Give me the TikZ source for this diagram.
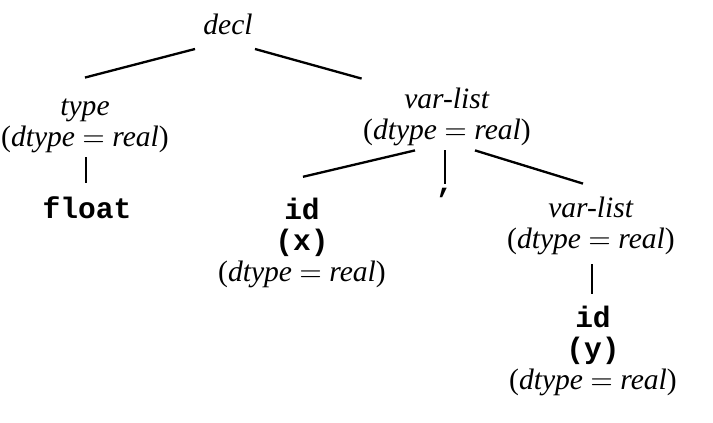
\documentclass[tikz,border=0pt]{standalone}
\usepackage{fontspec}
\setmainfont{Liberation Serif}
\setmonofont{Liberation Mono}
\usepackage{tikz}
\newcommand{\dtypereal}{(\textit{dtype} $=$ \textit{real})}

\begin{document}
\begin{tikzpicture}[x=0.345pt,y=-0.345pt,
    attr/.style={align=center,inner sep=0pt,font=\fontsize{10.2}{10.6}\selectfont},
    tok/.style={inner sep=0pt,font=\fontsize{10.2}{10.6}\selectfont\ttfamily\bfseries}]
  \useasboundingbox (0,0) rectangle (713,423);
  \node[attr] (decl) at (228,24) {\textit{decl}};
  \node[attr] (type) at (85,126) {\textit{type}\\\dtypereal};
  \node[tok] (float) at (87,208) {float};
  \node[attr] (vlist) at (447,117) {\textit{var-list}\\\dtypereal};
  \node[attr] (idx) at (302,243) {\ttfamily\bfseries id\\\ttfamily\bfseries (x)\\\dtypereal};
  \node[tok] (comma) at (445,193) {,};
  \node[attr] (vlistb) at (591,226) {\textit{var-list}\\\dtypereal};
  \node[attr] (idy) at (593,351) {\ttfamily\bfseries id\\\ttfamily\bfseries (y)\\\dtypereal};
  \draw[thick] ([shift={(-33,14)}]decl.south) -- ([shift={(0,-21)}]type.north);
  \draw[thick] ([shift={(27,14)}]decl.south) -- ([shift={(-1,-9)}]vlist.north west);
  \draw[thick] ([shift={(1,4)}]type.south) -- ([shift={(-1,-13)}]float.north);
  \draw[thick] ([shift={(-32,4)}]vlist.south) -- ([shift={(1,-21)}]idx.north);
  \draw[thick] ([shift={(-2,4)}]vlist.south) -- ([shift={(0,-4)}]comma.north);
  \draw[thick] ([shift={(28,4)}]vlist.south) -- ([shift={(-8,-13)}]vlistb.north);
  \draw[thick] ([shift={(1,9)}]vlistb.south) -- ([shift={(-1,-12)}]idy.north);
\end{tikzpicture}
\end{document}
